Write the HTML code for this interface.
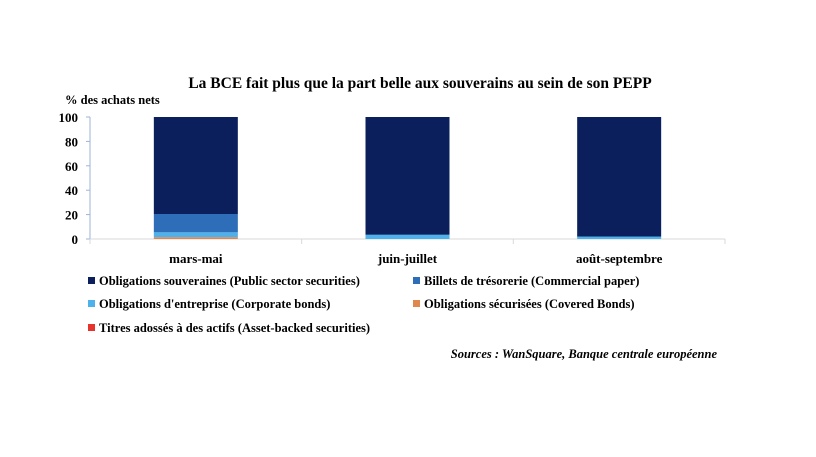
<!DOCTYPE html>
<html><head><meta charset="utf-8"><style>
body{margin:0;background:#fff;font-family:"Liberation Serif",serif;}
svg text{font-family:"Liberation Serif",serif;font-weight:bold;fill:#000;}
</style></head><body>
<svg width="816" height="452">
<text x="420" y="88" font-size="15.5" text-anchor="middle">La BCE fait plus que la part belle aux souverains au sein de son PEPP</text>
<text x="65" y="104" font-size="12.5">% des achats nets</text>
<g id="plot"></g>
<g id="legend"></g>
<text x="717" y="358" font-size="12.5" font-style="italic" text-anchor="end">Sources : WanSquare, Banque centrale européenne</text>
</svg>
<script>
const categories=["mars-mai","juin-juillet","août-septembre"];
const seriesNames=["Obligations souveraines (Public sector securities)","Billets de trésorerie (Commercial paper)","Obligations d'entreprise (Corporate bonds)","Obligations sécurisées (Covered Bonds)","Titres adossés à des actifs (Asset-backed securities)"];
const sovereign=[79.5,96.5,98];
const commercial=[15,0,0];
const corporate=[4,3.5,2];
const covered=[1.5,0,0];
const abs=[0,0,0];
const yTicks=[0,20,40,60,80,100];
const colors=["#0b1f5c","#2e6db7","#4db1ec","#e0874f","#e8322c"];
const NS="http://www.w3.org/2000/svg";
const plot=document.getElementById('plot'),leg=document.getElementById('legend');
const x0=90,x1=725,y0=239,y1=117;
const ys=v=>y0-(v/100)*(y0-y1);
const bw=(x1-x0)/categories.length;
function mk(t,a,p){const e=document.createElementNS(NS,t);for(const k in a)e.setAttribute(k,a[k]);p.appendChild(e);return e;}
let ax=mk('line',{x1:x0,y1:y1,x2:x0,y2:y0,stroke:'#9fb3d9'},plot);


let bx=mk('line',{x1:x0,y1:y0,x2:x1,y2:y0,stroke:'#d9d9d9'},plot);


yTicks.forEach(t=>{
 mk('line',{x1:x0-4,x2:x0,y1:ys(t),y2:ys(t),stroke:'#9fb3d9'},plot);
 const tx=mk('text',{x:x0-12,y:ys(t)+5,'font-size':13,'text-anchor':'end'},plot);tx.textContent=t;
 
 
});
for(let i=0;i<=categories.length;i++)mk('line',{x1:x0+i*bw,x2:x0+i*bw,y1:y0,y2:y0+5,stroke:'#d9d9d9'},plot);
const series=[covered,corporate,commercial,sovereign,abs];
const sIdx=[3,2,1,0,4];
categories.forEach((c,i)=>{
 const cx=x0+bw*(i+0.5);let acc=0;
 series.forEach((s,j)=>{
  const v=s[i];if(v<=0)return;
  const r=mk('rect',{x:cx-42,width:84,y:ys(acc+v),height:ys(acc)-ys(acc+v),fill:colors[sIdx[j]]},plot);
  
  
  acc+=v;
 });
 const t=mk('text',{x:cx,y:263,'font-size':13,'text-anchor':'middle'},plot);t.textContent=c;
 
 
});
const lpos=[[88,285],[413,285],[88,308],[413,308],[88,332]];
seriesNames.forEach((n,i)=>{
 const g=mk('g',{},leg);
 
 
 mk('rect',{x:lpos[i][0],y:lpos[i][1]-8,width:7,height:7,fill:colors[i]},g);
 const t=mk('text',{x:lpos[i][0]+11,y:lpos[i][1],'font-size':12.5},g);t.textContent=n;
});
</script>
</body></html>
